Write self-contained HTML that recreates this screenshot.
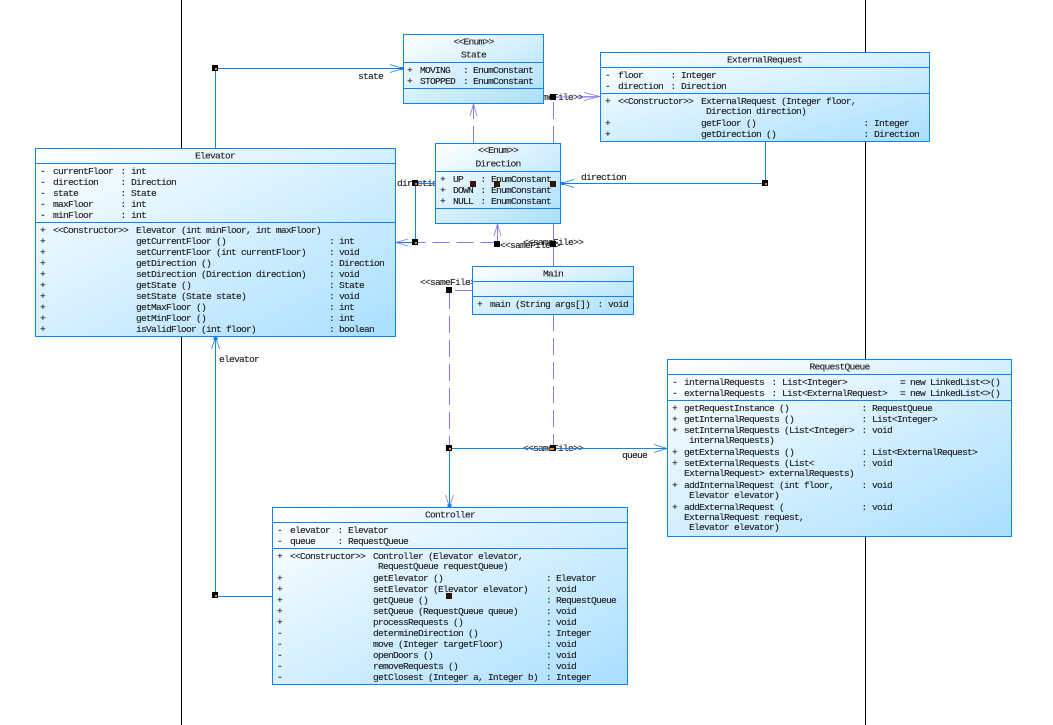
<!DOCTYPE html>
<html>
<head>
<meta charset="utf-8">
<style>
html,body{margin:0;padding:0;background:#fff;width:1053px;height:725px;overflow:hidden}
svg{display:block}
text{font-family:"Liberation Mono",monospace;font-size:9.6px;letter-spacing:-0.76px;fill:#1c1c1c;stroke:#1c1c1c;stroke-width:.12;white-space:pre}
.m{text-anchor:middle}
.b{fill:url(#g);stroke:#0f80f5;stroke-width:1}
.d{stroke:#0f80f5;stroke-width:1;fill:none}
.s{stroke:#0f80f5;stroke-width:.8;fill:none}
.p{stroke:#8478ee;stroke-width:.8;fill:none}
.ds{stroke:#8478ee;stroke-width:1;fill:none;stroke-dasharray:17 7}
.k{fill:#000}
.r{fill:#351408}
.o{fill:#f08a18}
</style>
</head>
<body>
<svg width="1053" height="725" viewBox="0 0 1053 725" xmlns="http://www.w3.org/2000/svg">
<defs>
<linearGradient id="g" x1="0" y1="0" x2="1" y2="1">
<stop offset="0" stop-color="#ffffff"/>
<stop offset="1" stop-color="#a9dfff"/>
</linearGradient>
</defs>
<rect width="1053" height="725" fill="#fff"/>
<path d="M181.5 0V725M865.5 0V725" stroke="#000" stroke-width="1" fill="none"/>

<!-- labels behind boxes -->
<text x="358" y="79">state</text>
<text x="219" y="362">elevator</text>
<text x="581" y="180">direction</text>
<text x="397" y="186">direction</text>
<text x="523" y="100">&lt;&lt;sameFile&gt;&gt;</text>
<text x="500" y="248">&lt;&lt;sameFile&gt;&gt;</text>
<text x="523" y="245">&lt;&lt;sameFile&gt;&gt;</text>
<text x="420" y="285">&lt;&lt;sameFile&gt;&gt;</text>
<text x="523" y="451">&lt;&lt;sameFile&gt;&gt;</text>
<text x="622" y="458">queue</text>

<!-- connectors -->
<path class="ds" d="M473.5 143V105"/>
<path class="p" d="M473.5 104L470 116M473.5 104L477 116M473.5 104V116"/>
<path class="ds" d="M553.5 143V97"/>
<path class="ds" d="M553.5 97H600"/>
<path class="p" d="M600 96.5L584 92.5M600 96.5L584 100.5M600 96.5H584"/>
<path class="d" d="M553.5 223V266" style="stroke:#8478ee"/>
<path class="ds" d="M553.5 314V448"/>
<path class="ds" d="M497.5 242.5H395"/>
<path class="p" d="M396 242.5L408 239M396 242.5L408 246M396 242.5H408"/>
<path class="ds" d="M497.5 242V224"/>
<path class="p" d="M497.5 224L494 236M497.5 224L501 236M497.5 224V236"/>
<path class="ds" d="M472 290.5H449.5V448"/>
<path class="p" d="M449.5 507L445.5 495M449.5 507L453.5 495"/>
<path class="d" d="M215.5 148V68.5H403"/>
<path class="s" d="M403 68.5L390 64.5M403 68.5L390 72.5"/>
<path class="d" d="M272 596.5H215.5V337"/>
<path class="s" d="M215.5 337L211.5 349M215.5 337L219.5 349"/>
<rect x="213.5" y="337" width="4" height="3" fill="#0f80f5"/>
<path class="d" d="M765.5 141V183.5H561"/>
<path class="s" d="M561 183.5L574 179.5M561 183.5L574 187.5"/>
<rect x="561" y="182" width="3" height="3" fill="#0f80f5"/>
<path class="d" d="M435 183.5H415.5V242.5H396"/>
<path class="d" d="M449.5 448.5H667"/>
<path class="s" d="M667 448.5L654 444.5M667 448.5L654 452.5"/>
<path class="d" d="M449.5 448.5V507"/>
<rect x="447.5" y="504" width="4" height="3" fill="#0f80f5"/>
<rect x="400" y="67" width="3" height="3" fill="#0f80f5"/>

<!-- State -->
<rect class="b" x="403.5" y="34.5" width="140" height="69"/>
<path class="d" d="M403.5 62.5H543.5M403.5 88.5H543.5"/>
<text class="m" x="473.5" y="44.5">&lt;&lt;Enum&gt;&gt;</text>
<text class="m" x="473.5" y="57.5">State</text>
<text x="407" y="73">+</text><text x="420" y="73">MOVING</text><text x="463" y="73">:</text><text x="473" y="73">EnumConstant</text>
<text x="407" y="84">+</text><text x="420" y="84">STOPPED</text><text x="463" y="84">:</text><text x="473" y="84">EnumConstant</text>

<!-- Direction -->
<rect class="b" x="435.5" y="143.5" width="125" height="80"/>
<path class="d" d="M435.5 171.5H560.5M435.5 208.5H560.5"/>
<text class="m" x="498" y="153">&lt;&lt;Enum&gt;&gt;</text>
<text class="m" x="498" y="166.5">Direction</text>
<text x="440" y="182">+</text><text x="453" y="182">UP</text><text x="480.5" y="182">:</text><text x="491" y="182">EnumConstant</text>
<text x="440" y="193">+</text><text x="453" y="193">DOWN</text><text x="480.5" y="193">:</text><text x="491" y="193">EnumConstant</text>
<text x="440" y="204">+</text><text x="453" y="204">NULL</text><text x="480.5" y="204">:</text><text x="491" y="204">EnumConstant</text>

<!-- Main -->
<rect class="b" x="472.5" y="266.5" width="161" height="48"/>
<path class="d" d="M472.5 281.5H633.5M472.5 296.5H633.5"/>
<text class="m" x="553" y="276.5">Main</text>
<text x="477" y="307">+</text><text x="490" y="307">main (String args[])</text><text x="597.5" y="307">:</text><text x="608" y="307">void</text>

<!-- Elevator -->
<rect class="b" x="35.5" y="148.5" width="360" height="188"/>
<path class="d" d="M35.5 163.5H395.5M35.5 222.5H395.5"/>
<text class="m" x="215" y="158.5">Elevator</text>
<text x="40" y="174">-</text><text x="53" y="174">currentFloor</text><text x="120.5" y="174">:</text><text x="131" y="174">int</text>
<text x="40" y="185">-</text><text x="53" y="185">direction</text><text x="120.5" y="185">:</text><text x="131" y="185">Direction</text>
<text x="40" y="196">-</text><text x="53" y="196">state</text><text x="120.5" y="196">:</text><text x="131" y="196">State</text>
<text x="40" y="207">-</text><text x="53" y="207">maxFloor</text><text x="120.5" y="207">:</text><text x="131" y="207">int</text>
<text x="40" y="218">-</text><text x="53" y="218">minFloor</text><text x="120.5" y="218">:</text><text x="131" y="218">int</text>
<text x="40" y="233">+</text><text x="53" y="233">&lt;&lt;Constructor&gt;&gt;</text><text x="136" y="233">Elevator (int minFloor, int maxFloor)</text>
<text x="40" y="244">+</text><text x="136" y="244">getCurrentFloor ()</text><text x="329" y="244">:</text><text x="339" y="244">int</text>
<text x="40" y="255">+</text><text x="136" y="255">setCurrentFloor (int currentFloor)</text><text x="329" y="255">:</text><text x="339" y="255">void</text>
<text x="40" y="266">+</text><text x="136" y="266">getDirection ()</text><text x="329" y="266">:</text><text x="339" y="266">Direction</text>
<text x="40" y="277">+</text><text x="136" y="277">setDirection (Direction direction)</text><text x="329" y="277">:</text><text x="339" y="277">void</text>
<text x="40" y="288">+</text><text x="136" y="288">getState ()</text><text x="329" y="288">:</text><text x="339" y="288">State</text>
<text x="40" y="299">+</text><text x="136" y="299">setState (State state)</text><text x="329" y="299">:</text><text x="339" y="299">void</text>
<text x="40" y="310">+</text><text x="136" y="310">getMaxFloor ()</text><text x="329" y="310">:</text><text x="339" y="310">int</text>
<text x="40" y="321">+</text><text x="136" y="321">getMinFloor ()</text><text x="329" y="321">:</text><text x="339" y="321">int</text>
<text x="40" y="332">+</text><text x="136" y="332">isValidFloor (int floor)</text><text x="329" y="332">:</text><text x="339" y="332">boolean</text>

<!-- ExternalRequest -->
<rect class="b" x="600.5" y="52.5" width="329" height="89"/>
<path class="d" d="M600.5 67.5H929.5M600.5 93.5H929.5"/>
<text class="m" x="764.5" y="62.5">ExternalRequest</text>
<text x="605" y="78">-</text><text x="618" y="78">floor</text><text x="670.5" y="78">:</text><text x="681" y="78">Integer</text>
<text x="605" y="89">-</text><text x="618" y="89">direction</text><text x="670.5" y="89">:</text><text x="681" y="89">Direction</text>
<text x="605" y="104">+</text><text x="618" y="104">&lt;&lt;Constructor&gt;&gt;</text><text x="701" y="104">ExternalRequest (Integer floor,</text>
<text x="706" y="114">Direction direction)</text>
<text x="605" y="126">+</text><text x="701" y="126">getFloor ()</text><text x="863.5" y="126">:</text><text x="874" y="126">Integer</text>
<text x="605" y="137">+</text><text x="701" y="137">getDirection ()</text><text x="863.5" y="137">:</text><text x="874" y="137">Direction</text>

<!-- RequestQueue -->
<rect class="b" x="667.5" y="359.5" width="344" height="177"/>
<path class="d" d="M667.5 374.5H1011.5M667.5 400.5H1011.5"/>
<text class="m" x="839.5" y="369.5">RequestQueue</text>
<text x="672" y="385">-</text><text x="684" y="385">internalRequests</text><text x="771.5" y="385">:</text><text x="782" y="385">List&lt;Integer&gt;</text><text x="900" y="385">= new LinkedList&lt;&gt;()</text>
<text x="672" y="396">-</text><text x="684" y="396">externalRequests</text><text x="771.5" y="396">:</text><text x="782" y="396">List&lt;ExternalRequest&gt;</text><text x="900" y="396">= new LinkedList&lt;&gt;()</text>
<text x="672" y="411">+</text><text x="684" y="411">getRequestInstance ()</text><text x="861.5" y="411">:</text><text x="872" y="411">RequestQueue</text>
<text x="672" y="422">+</text><text x="684" y="422">getInternalRequests ()</text><text x="861.5" y="422">:</text><text x="872" y="422">List&lt;Integer&gt;</text>
<text x="672" y="433">+</text><text x="684" y="433">setInternalRequests (List&lt;Integer&gt;</text><text x="861.5" y="433">:</text><text x="872" y="433">void</text>
<text x="689" y="443">internalRequests)</text>
<text x="672" y="455">+</text><text x="684" y="455">getExternalRequests ()</text><text x="861.5" y="455">:</text><text x="872" y="455">List&lt;ExternalRequest&gt;</text>
<text x="672" y="466">+</text><text x="684" y="466">setExternalRequests (List&lt;</text><text x="861.5" y="466">:</text><text x="872" y="466">void</text>
<text x="684" y="476">ExternalRequest&gt; externalRequests)</text>
<text x="672" y="488">+</text><text x="684" y="488">addInternalRequest (int floor,</text><text x="861.5" y="488">:</text><text x="872" y="488">void</text>
<text x="689" y="498">Elevator elevator)</text>
<text x="672" y="510">+</text><text x="684" y="510">addExternalRequest (</text><text x="861.5" y="510">:</text><text x="872" y="510">void</text>
<text x="684" y="520">ExternalRequest request,</text>
<text x="689" y="530">Elevator elevator)</text>

<!-- Controller -->
<rect class="b" x="272.5" y="507.5" width="355" height="177"/>
<path class="d" d="M272.5 522.5H627.5M272.5 548.5H627.5"/>
<text class="m" x="450" y="517.5">Controller</text>
<text x="277" y="533">-</text><text x="290" y="533">elevator</text><text x="337.5" y="533">:</text><text x="348" y="533">Elevator</text>
<text x="277" y="544">-</text><text x="290" y="544">queue</text><text x="337.5" y="544">:</text><text x="348" y="544">RequestQueue</text>
<text x="277" y="559">+</text><text x="290" y="559">&lt;&lt;Constructor&gt;&gt;</text><text x="373" y="559">Controller (Elevator elevator,</text>
<text x="378" y="569">RequestQueue requestQueue)</text>
<text x="277" y="581">+</text><text x="373" y="581">getElevator ()</text><text x="546" y="581">:</text><text x="556" y="581">Elevator</text>
<text x="277" y="592">+</text><text x="373" y="592">setElevator (Elevator elevator)</text><text x="546" y="592">:</text><text x="556" y="592">void</text>
<text x="277" y="603">+</text><text x="373" y="603">getQueue ()</text><text x="546" y="603">:</text><text x="556" y="603">RequestQueue</text>
<text x="277" y="614">+</text><text x="373" y="614">setQueue (RequestQueue queue)</text><text x="546" y="614">:</text><text x="556" y="614">void</text>
<text x="277" y="625">+</text><text x="373" y="625">processRequests ()</text><text x="546" y="625">:</text><text x="556" y="625">void</text>
<text x="277" y="636">-</text><text x="373" y="636">determineDirection ()</text><text x="546" y="636">:</text><text x="556" y="636">Integer</text>
<text x="277" y="647">-</text><text x="373" y="647">move (Integer targetFloor)</text><text x="546" y="647">:</text><text x="556" y="647">void</text>
<text x="277" y="658">-</text><text x="373" y="658">openDoors ()</text><text x="546" y="658">:</text><text x="556" y="658">void</text>
<text x="277" y="669">-</text><text x="373" y="669">removeRequests ()</text><text x="546" y="669">:</text><text x="556" y="669">void</text>
<text x="277" y="680">-</text><text x="373" y="680">getClosest (Integer a, Integer b)</text><text x="546" y="680">:</text><text x="556" y="680">Integer</text>

<!-- handles -->
<rect class="k" x="212" y="65" width="6" height="6"/><rect class="o" x="215" y="68" width="2" height="2"/>
<rect class="k" x="212" y="592" width="6" height="6"/><rect class="o" x="215" y="595" width="2" height="2"/>
<rect class="k" x="412" y="180" width="6" height="6"/><rect class="o" x="415" y="183" width="2" height="2"/>
<rect class="k" x="412" y="239" width="6" height="6"/><rect class="o" x="415" y="242" width="2" height="2"/>
<rect class="k" x="762" y="180" width="6" height="6"/><rect class="o" x="765" y="183" width="2" height="2"/>
<rect class="k" x="446" y="445" width="6" height="6"/><rect class="o" x="449" y="448" width="2" height="2"/>
<rect class="k" x="446" y="287" width="6" height="6"/>
<rect class="k" x="494" y="241" width="6" height="6"/>
<rect class="k" x="550" y="241" width="6" height="6"/>
<rect class="k" x="550" y="94" width="6" height="6"/>
<rect class="k" x="550" y="445" width="6" height="6"/><rect class="o" x="550" y="448" width="4" height="2"/>
<rect class="r" x="470" y="181" width="6" height="6"/>
<rect class="r" x="494" y="181" width="6" height="6"/>
<rect class="r" x="550" y="181" width="6" height="6"/>
<rect class="r" x="446" y="593" width="6" height="6"/>
</svg>
</body>
</html>
